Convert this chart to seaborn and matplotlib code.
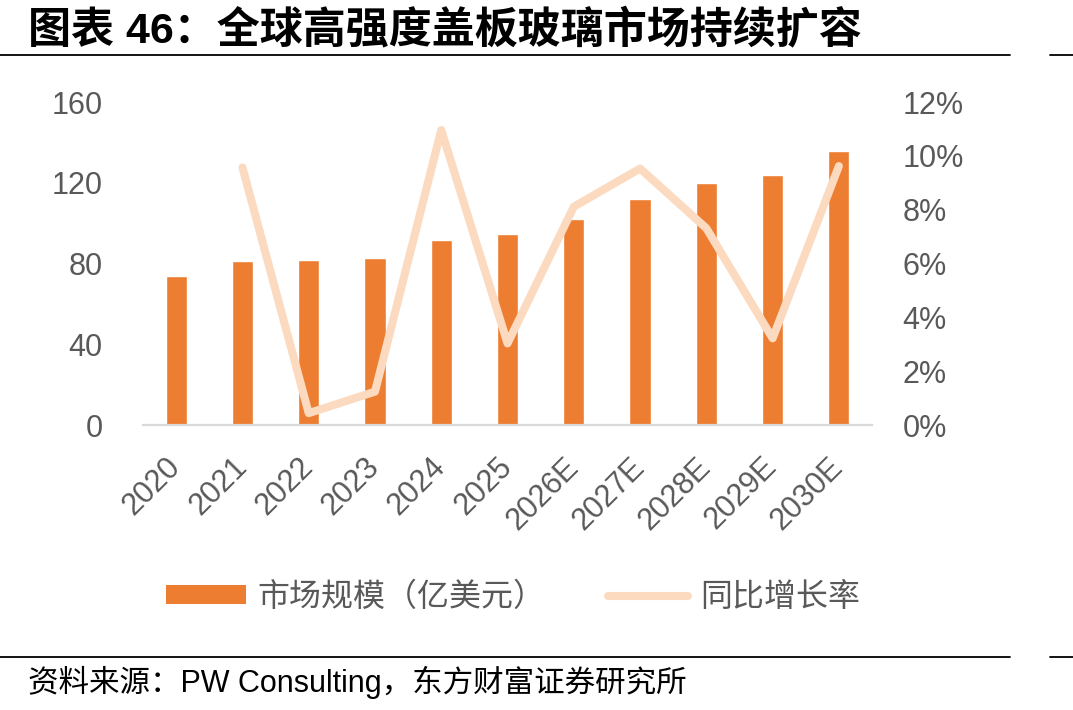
import seaborn as sns
import matplotlib.pyplot as plt
from matplotlib.lines import Line2D
from matplotlib.patches import Patch
from matplotlib.ticker import PercentFormatter
import pandas as pd

years = ["2020", "2021", "2022", "2023", "2024", "2025",
         "2026E", "2027E", "2028E", "2029E", "2030E"]
market = [73.8, 81.1, 81.6, 82.6, 91.5, 94.5, 102.0, 111.8, 119.9, 123.8, 135.7]
growth = [None, 0.0957, 0.0044, 0.0124, 0.1096, 0.0303, 0.0811, 0.0953, 0.0731, 0.0322, 0.0962]

bar_label = "市场规模（亿美元）"
line_label = "同比增长率"
title = "图表 46：全球高强度盖板玻璃市场持续扩容"
source = "资料来源：PW Consulting，东方财富证券研究所"

bar_color = "#ED7D31"
line_color = "#FBDAC0"
grey = "#595959"

sns.set_style("white")
plt.rcParams["font.family"] = ["Liberation Sans", "Noto Sans CJK SC", "DejaVu Sans"]

df = pd.DataFrame({"year": years, "market": market, "growth": growth})

fig = plt.figure(figsize=(10.73, 7.10), dpi=100)
ax = fig.add_axes([0.1333, 0.4014, 0.6794, 0.4549])

sns.barplot(data=df, x="year", y="market", color=bar_color, width=0.32,
            saturation=1, ax=ax)
ax.set_ylim(0, 160)
ax.set_yticks([0, 40, 80, 120, 160])
ax.set_xlabel("")
ax.set_ylabel("")

ax2 = ax.twinx()
line_df = df.dropna()
sns.lineplot(data=line_df, x="year", y="growth", color=line_color, linewidth=5.8,
             sort=False, ax=ax2, solid_capstyle="round")
ax2.set_ylim(0, 0.12)
ax2.set_yticks([0, 0.02, 0.04, 0.06, 0.08, 0.10, 0.12])
ax2.yaxis.set_major_formatter(PercentFormatter(1.0, decimals=0))
ax2.set_ylabel("")
ax.set_xlim(-0.5, len(years) - 0.5)

for a in (ax, ax2):
    for s in a.spines.values():
        s.set_visible(False)
ax.spines["bottom"].set_visible(True)
ax.spines["bottom"].set_color("#D9D9D9")
ax.spines["bottom"].set_linewidth(1.6)

ax.tick_params(axis="y", labelsize=22, labelcolor=grey, length=0, pad=29)
ax2.tick_params(axis="y", labelsize=22, labelcolor=grey, length=0, pad=22)
ax.tick_params(axis="x", labelsize=22, labelcolor=grey, length=0, pad=27)
for lab in ax.get_xticklabels():
    lab.set_rotation(45)
    lab.set_ha("right")
    lab.set_va("center")
    lab.set_rotation_mode("anchor")

handles = [Patch(facecolor=bar_color, edgecolor="none"),
           Line2D([0], [0], color=line_color, linewidth=5.8, solid_capstyle="round")]
fig.legend(handles, [bar_label, line_label], loc="center", bbox_to_anchor=(0.478, 0.159),
           ncol=2, frameon=False, handlelength=2.5, handleheight=0.55,
           columnspacing=1.95, handletextpad=0.37,
           prop={"family": ["Noto Sans CJK SC"], "size": 23}, labelcolor=grey)

fig.text(0.026, 0.957, title, fontsize=31, fontweight="bold", color="black",
         va="center", ha="left", family=["Liberation Sans", "Noto Sans CJK SC"])
fig.text(0.026, 0.039, source, fontsize=22, color="black", va="center", ha="left",
         family=["Liberation Sans", "Noto Sans CJK SC"])

for yy in (1 - 55 / 710, 1 - 657 / 710):
    fig.add_artist(Line2D([0, 1010 / 1073], [yy, yy], color="black", linewidth=1.3))
    fig.add_artist(Line2D([1050 / 1073, 1], [yy, yy], color="black", linewidth=1.3))

fig.savefig("out.png", dpi=100)
